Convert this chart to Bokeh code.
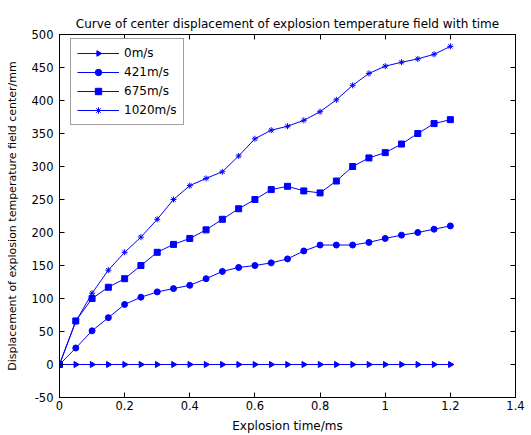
from bokeh.plotting import figure
from bokeh.models import (FixedTicker, LinearAxis, Range1d, CustomJSTickFormatter, Legend)
from bokeh.core.properties import value
from bokeh.embed import file_html
from bokeh.resources import INLINE

time_ms = [0, 0.05, 0.1, 0.15, 0.2, 0.25, 0.3, 0.35, 0.4, 0.45, 0.5, 0.55, 0.6,
           0.65, 0.7, 0.75, 0.8, 0.85, 0.9, 0.95, 1.0, 1.05, 1.1, 1.15, 1.2]
v0 = [0] * 25
v421 = [0, 25, 51, 71, 91, 102, 110, 115, 120, 130, 141, 147, 150, 154, 160,
        172, 181, 181, 181, 185, 191, 196, 200, 205, 210]
v675 = [0, 66, 100, 117, 130, 150, 170, 182, 191, 204, 220, 236, 250, 265, 270,
        263, 260, 278, 300, 313, 321, 334, 350, 365, 371]
v1020 = [0, 65, 108, 143, 170, 193, 220, 250, 271, 282, 292, 316, 342, 355, 361,
         370, 383, 401, 423, 441, 452, 458, 463, 470, 482]

series = [("0m/s", v0, "right_triangle", 6), ("421m/s", v421, "circle", 6),
          ("675m/s", v675, "square", 6), ("1020m/s", v1020, "asterisk", 6)]

x_ticks = [0, 0.2, 0.4, 0.6, 0.8, 1.0, 1.2, 1.4]
y_ticks = [-50, 0, 50, 100, 150, 200, 250, 300, 350, 400, 450, 500]

FONT = "DejaVu Sans"
BLUE = "#0000ff"

p = figure(width=531, height=435, output_backend="svg", toolbar_location=None,
           x_range=Range1d(0, 1.4), y_range=Range1d(-50, 500),
           title="Curve of center displacement of explosion temperature field with time",
           min_border_left=59, min_border_right=16, min_border_top=34, min_border_bottom=38)

p.title.text_font = FONT
p.title.text_font_size = "12px"
p.title.text_font_style = "normal"
p.title.text_color = "black"
p.title.align = "center"
p.title.offset = 0
p.title.standoff = 8
p.grid.visible = False
p.outline_line_color = "black"
p.outline_line_width = 1
p.background_fill_color = "white"
p.border_fill_color = "white"

fmt = CustomJSTickFormatter(code="return String(Number(tick.toFixed(2)));")
blank = CustomJSTickFormatter(code="return '';")

for ax in p.xaxis:
    ax.ticker = FixedTicker(ticks=x_ticks)
    ax.formatter = fmt
    ax.axis_label = "Explosion time/ms"
    ax.major_label_standoff = 3
    ax.axis_label_standoff = 6
    ax.axis_label_text_font_size = "12px"
for ax in p.yaxis:
    ax.ticker = FixedTicker(ticks=y_ticks)
    ax.formatter = fmt
    ax.axis_label = "Displacement of explosion temperature field center/mm"
    ax.major_label_standoff = 6
    ax.axis_label_standoff = 10
    ax.axis_label_text_font_size = "11px"

for ax in list(p.xaxis) + list(p.yaxis):
    ax.major_tick_in = 5
    ax.major_tick_out = 0
    ax.minor_tick_line_color = None
    ax.axis_line_color = "black"
    ax.major_tick_line_color = "black"
    ax.major_label_text_font = FONT
    ax.major_label_text_font_size = "11.5px"
    ax.major_label_text_color = "black"
    ax.axis_label_text_font = FONT
    ax.axis_label_text_font_style = "normal"
    ax.axis_label_text_color = "black"

top = LinearAxis(ticker=FixedTicker(ticks=x_ticks), formatter=blank, major_tick_in=5,
                 major_tick_out=0, minor_tick_line_color=None, major_label_standoff=0)
right = LinearAxis(ticker=FixedTicker(ticks=y_ticks), formatter=blank, major_tick_in=5,
                   major_tick_out=0, minor_tick_line_color=None, major_label_standoff=0)
p.add_layout(top, "above")
p.add_layout(right, "right")

items = []
for name, ys, marker, size in series:
    r1 = p.line(time_ms, ys, line_color=BLUE, line_width=1)
    if marker == "right_triangle":
        try:
            r2 = p.ngon(time_ms, ys, radius=3.5, radius_units="screen", n=3,
                        angle=-90, angle_units="deg",
                        line_color=BLUE, fill_color=BLUE)
        except Exception:
            r2 = p.text(time_ms, ys, text=value("\u25b6"), text_font=value(FONT),
                        text_font_size="7px", text_align="center",
                        text_baseline="middle", text_color=BLUE)
    else:
        r2 = p.scatter(time_ms, ys, marker=marker, size=size, line_color=BLUE,
                       fill_color=BLUE)
    items.append((name, [r1, r2]))

legend = Legend(items=items, location=(11, 272), margin=0)
legend.label_text_font = FONT
legend.label_text_font_size = "12px"
legend.label_text_color = "black"
legend.glyph_width = 42
legend.glyph_height = 16
legend.label_height = 16
legend.spacing = 3
legend.padding = 6
legend.label_standoff = 5
legend.border_line_color = "#404040"
legend.border_line_width = 1
legend.background_fill_color = "white"
legend.background_fill_alpha = 1
p.add_layout(legend, "center")

open("out.html", "w").write(file_html(p, INLINE))
